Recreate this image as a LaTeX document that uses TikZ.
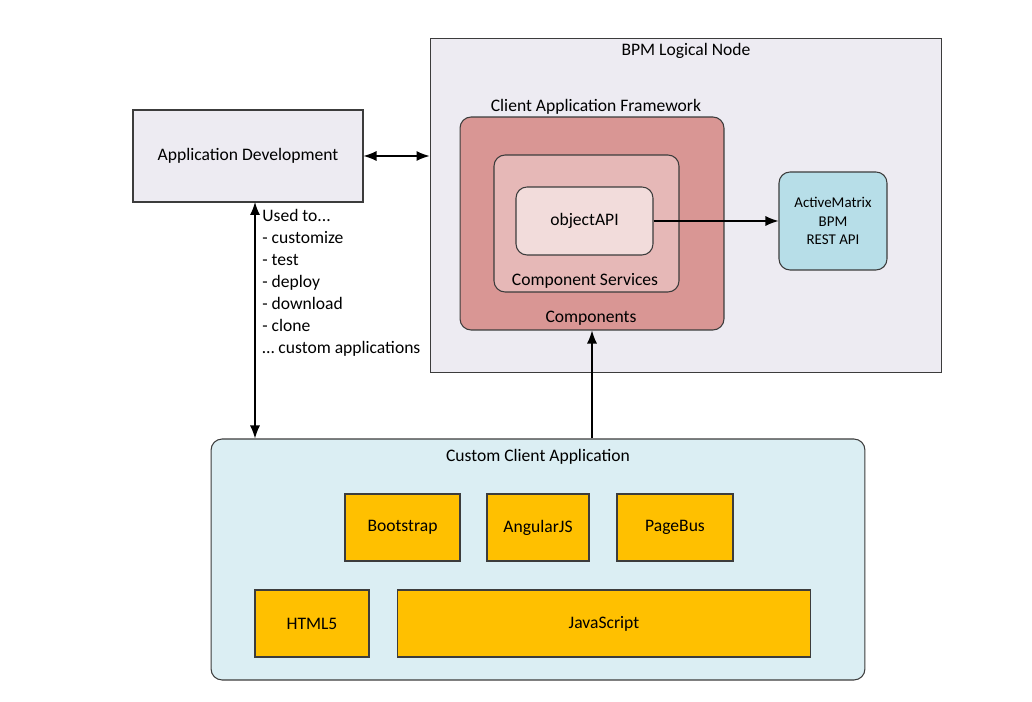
\documentclass[tikz,border=0pt]{standalone}
\usepackage{fontspec}
\setmainfont{Carlito}
\usepackage{xcolor}
\usetikzlibrary{arrows.meta}

\definecolor{nodegray}{RGB}{237,235,242}
\definecolor{frameworkred}{RGB}{217,150,148}
\definecolor{servicespink}{RGB}{230,184,183}
\definecolor{apipink}{RGB}{242,220,219}
\definecolor{restblue}{RGB}{183,222,232}
\definecolor{clientblue}{RGB}{219,238,243}
\definecolor{libyellow}{RGB}{255,192,0}
\definecolor{edgegray}{RGB}{60,60,60}

\tikzset{
  box/.style={draw=edgegray, line width=0.6pt, inner sep=0pt},
  roundbox/.style={box, rounded corners=0.22cm},
  libbox/.style={box, fill=libyellow},
  arr/.style={-{Latex[length=2.6mm,width=2mm]}, line width=0.7pt},
  dblarr/.style={{Latex[length=2.6mm,width=2mm]}-{Latex[length=2.6mm,width=2mm]}, line width=0.7pt}
}

\begin{document}
\begin{tikzpicture}[x=0.02cm, y=-0.02cm, font=\fontsize{10}{12.5}\selectfont]
    \useasboundingbox (0,0) rectangle (1032,702);

    % Logical node and development box
    \node[box, fill=nodegray, minimum width=10.24cm, minimum height=6.7cm] (bpm) at (686,205.5) {};
    \node (bpmlabel) at (686,51) {BPM Logical Node};
    \node[box, fill=nodegray, minimum width=4.6cm, minimum height=1.84cm] (appdev) at (248,156) {Application Development};

    % Nested framework boxes
    \node[roundbox, fill=frameworkred, minimum width=5.28cm, minimum height=4.26cm] (caf) at (592,223.5) {};
    \node (caflabel) at (596,107) {Client Application Framework};
    \node (complabel) at (591,318) {Components};
    \node[roundbox, fill=servicespink, minimum width=3.7cm, minimum height=2.74cm] (cs) at (586.5,223.5) {};
    \node (cslabel) at (585,281) {Component Services};
    \node[roundbox, fill=apipink, minimum width=2.74cm, minimum height=1.36cm] (objapi) at (584.5,221) {objectAPI};
    \node[roundbox, fill=restblue, minimum width=2.16cm, minimum height=1.96cm, align=center,
          font=\fontsize{8.5}{10.5}\selectfont] (amx) at (833,221) {ActiveMatrix\\BPM\\REST API};

    % Custom client application
    \node[roundbox, fill=clientblue, minimum width=13.08cm, minimum height=4.82cm] (cca) at (538,559.5) {};
    \node (ccalabel) at (538,457) {Custom Client Application};
    \node[libbox, minimum width=2.3cm, minimum height=1.34cm] (bootstrap) at (402.5,527.5) {Bootstrap};
    \node[libbox, minimum width=2.04cm, minimum height=1.34cm] (angular) at (538,527.5) {AngularJS};
    \node[libbox, minimum width=2.32cm, minimum height=1.34cm] (pagebus) at (675,527.5) {PageBus};
    \node[libbox, minimum width=2.28cm, minimum height=1.34cm] (html) at (312,623.5) {HTML5};
    \node[libbox, minimum width=8.28cm, minimum height=1.34cm] (js) at (604,623.5) {JavaScript};

    % Connectors
    \draw[dblarr] (appdev.east) -- (appdev.east -| bpm.west);
    \draw[arr] (objapi.east) -- (amx.west);
    \draw[arr] (caf.south |- cca.north) -- (caf.south);
    \coordinate (devlink) at (255,202);
    \draw[dblarr] (devlink) -- (devlink |- cca.north);
    \node[anchor=north west, align=left, inner sep=0pt] (uses) at (262,209)
        {Used to...\\- customize\\- test\\- deploy\\- download\\- clone\\\dots{} custom applications};

\end{tikzpicture}
\end{document}
